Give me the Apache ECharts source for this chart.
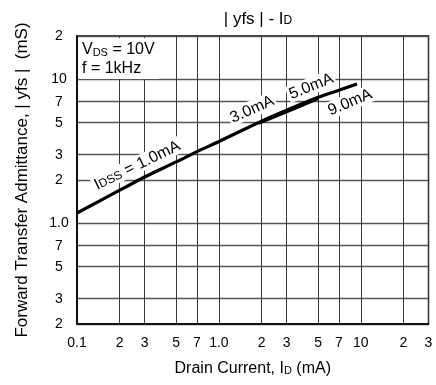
<!DOCTYPE html>
<html>
<head>
<meta charset="utf-8">
<script src="https://cdn.jsdelivr.net/npm/echarts@6/dist/echarts.min.js"></script>
<style>
  html, body { margin: 0; padding: 0; background: #fff; }
  #chart { width: 436px; height: 385px; }
</style>
</head>
<body>
<div id="chart"></div>
<script>
// |yfs| versus drain current (log-log)
const drainCurrent = [0.1, 0.2, 0.3, 0.5, 0.7, 1.0, 2.0, 3.0, 5.0, 7.0, 9.4];          // mA
const admittance   = [1.18, 1.70, 2.10, 2.67, 3.15, 3.70, 5.13, 6.10, 7.50, 8.40, 9.29]; // mS
// Overlapping IDSS curves in the middle of the range
const drainCurrentMid = [1.9, 3.0, 5.0];
const admittanceMid   = [4.95, 5.95, 7.35];

const xTicks      = [0.1, 0.2, 0.3, 0.5, 0.7, 1.0, 2, 3, 5, 7, 10, 20, 30];
const xTickLabels = ['0.1', '2', '3', '5', '7', '1.0', '2', '3', '5', '7', '10', '2', '3'];
const yTicks      = [0.2, 0.3, 0.5, 0.7, 1.0, 2, 3, 5, 7, 10, 20];
const yTickLabels = ['2', '3', '5', '7', '1.0', '2', '3', '5', '7', '10', '2'];

const curveLabels  = ['I{s|DSS} = 1.0mA', '3.0mA', '5.0mA', '9.0mA'];
const labelCurrent = [0.265, 1.71, 4.46, 8.39];
const labelAdmit   = [2.54, 6.22, 8.99, 6.96];
const labelAngle   = [26, 24, 22, 23];

const lg = Math.log10;
const xTickLog = xTicks.map(lg);
const yTickLog = yTicks.map(lg);
const fmt = (ticks, labels) => v => {
  const i = ticks.findIndex(t => Math.abs(t - v) < 1e-6);
  return i >= 0 ? labels[i] : '';
};

const FONT = '"Liberation Sans", Arial, sans-serif';
const sub = size => ({ fontFamily: FONT, fontSize: size, color: '#000', verticalAlign: 'bottom', padding: [0, 0, 1, 0] });
const chart = echarts.init(document.getElementById('chart'), null, { renderer: 'canvas' });

const option = {
  animation: false,
  backgroundColor: '#fff',
  textStyle: { fontFamily: FONT, color: '#000' },
  title: {
    text: '| yfs | - I{s|D}',
    left: 253, top: 6, textAlign: 'center',
    textStyle: {
      fontFamily: FONT, fontSize: 17, fontWeight: 'normal', color: '#000',
      rich: { s: sub(12) }
    }
  },
  grid: {
    left: 77, right: 7.5, top: 36, bottom: 61,
    show: true, borderColor: '#000', borderWidth: 1.5, backgroundColor: 'transparent'
  },
  xAxis: {
    type: 'value',
    min: lg(0.1), max: lg(30),
    name: 'Drain Current, I{s|D} (mA)',
    nameLocation: 'middle', nameGap: 37,
    nameTextStyle: { fontFamily: FONT, fontSize: 16, color: '#000', rich: { s: sub(11) } },
    axisLine: { show: true, onZero: false, lineStyle: { color: '#000', width: 1.5 } },
    axisTick: { show: false, customValues: xTickLog },
    axisLabel: {
      customValues: xTickLog, formatter: fmt(xTickLog, xTickLabels),
      fontFamily: FONT, fontSize: 14, color: '#000', margin: 12
    },
    splitLine: { show: true, lineStyle: { color: '#3a3a3a', width: 1 } }
  },
  yAxis: {
    type: 'value',
    min: lg(0.2), max: lg(20),
    name: 'Forward Transfer Admittance, | yfs |  (mS)',
    nameLocation: 'middle', nameGap: 46, nameRotate: 90,
    nameTextStyle: { fontFamily: FONT, fontSize: 17, color: '#000' },
    axisLine: { show: true, onZero: false, lineStyle: { color: '#000', width: 1.5 } },
    axisTick: { show: false, customValues: yTickLog },
    axisLabel: {
      customValues: yTickLog, formatter: fmt(yTickLog, yTickLabels),
      fontFamily: FONT, fontSize: 14, color: '#000', margin: 18, align: 'center'
    },
    splitLine: { show: true, lineStyle: { color: '#555', width: 1.3 } }
  },
  series: [
    {
      name: 'IDSS',
      type: 'line',
      data: drainCurrent.map((x, i) => [lg(x), lg(admittance[i])]),
      smooth: 0.2,
      showSymbol: false,
      lineStyle: { color: '#000', width: 3.2 },
      z: 3
    },
    {
      name: 'IDSS mid',
      type: 'line',
      data: drainCurrentMid.map((x, i) => [lg(x), lg(admittanceMid[i])]),
      smooth: 0.2,
      showSymbol: false,
      lineStyle: { color: '#000', width: 3 },
      z: 3
    }
  ],
  graphic: [
    {
      type: 'text', left: 79, top: 38, z: 10,
      style: {
        text: 'V{s|DS} = 10V\nf = 1kHz',
        font: '16px ' + FONT, fill: '#000', lineHeight: 19,
        backgroundColor: '#fff', padding: [2, 4, 1, 3],
        rich: { s: { font: '11px ' + FONT, fill: '#000', verticalAlign: 'bottom', padding: [0, 0, 1, 0] } }
      }
    }
  ]
};

chart.setOption(option);

// Curve annotations, anchored in data space and rotated along the curve
const notes = curveLabels.map((txt, i) => {
  const p = chart.convertToPixel({ gridIndex: 0 }, [lg(labelCurrent[i]), lg(labelAdmit[i])]);
  return {
    type: 'text', x: p[0], y: p[1], z: 10,
    rotation: labelAngle[i] * Math.PI / 180,
    style: {
      text: txt, font: '16px ' + FONT, fill: '#000',
      align: 'center', verticalAlign: 'middle',
      backgroundColor: '#fff', padding: [1, 2, 0, 2],
      rich: { s: { font: '12px ' + FONT, fill: '#000', verticalAlign: 'bottom', padding: [0, 0, 1, 0] } }
    }
  };
});
chart.setOption({ graphic: option.graphic.concat(notes) });
</script>
</body>
</html>
